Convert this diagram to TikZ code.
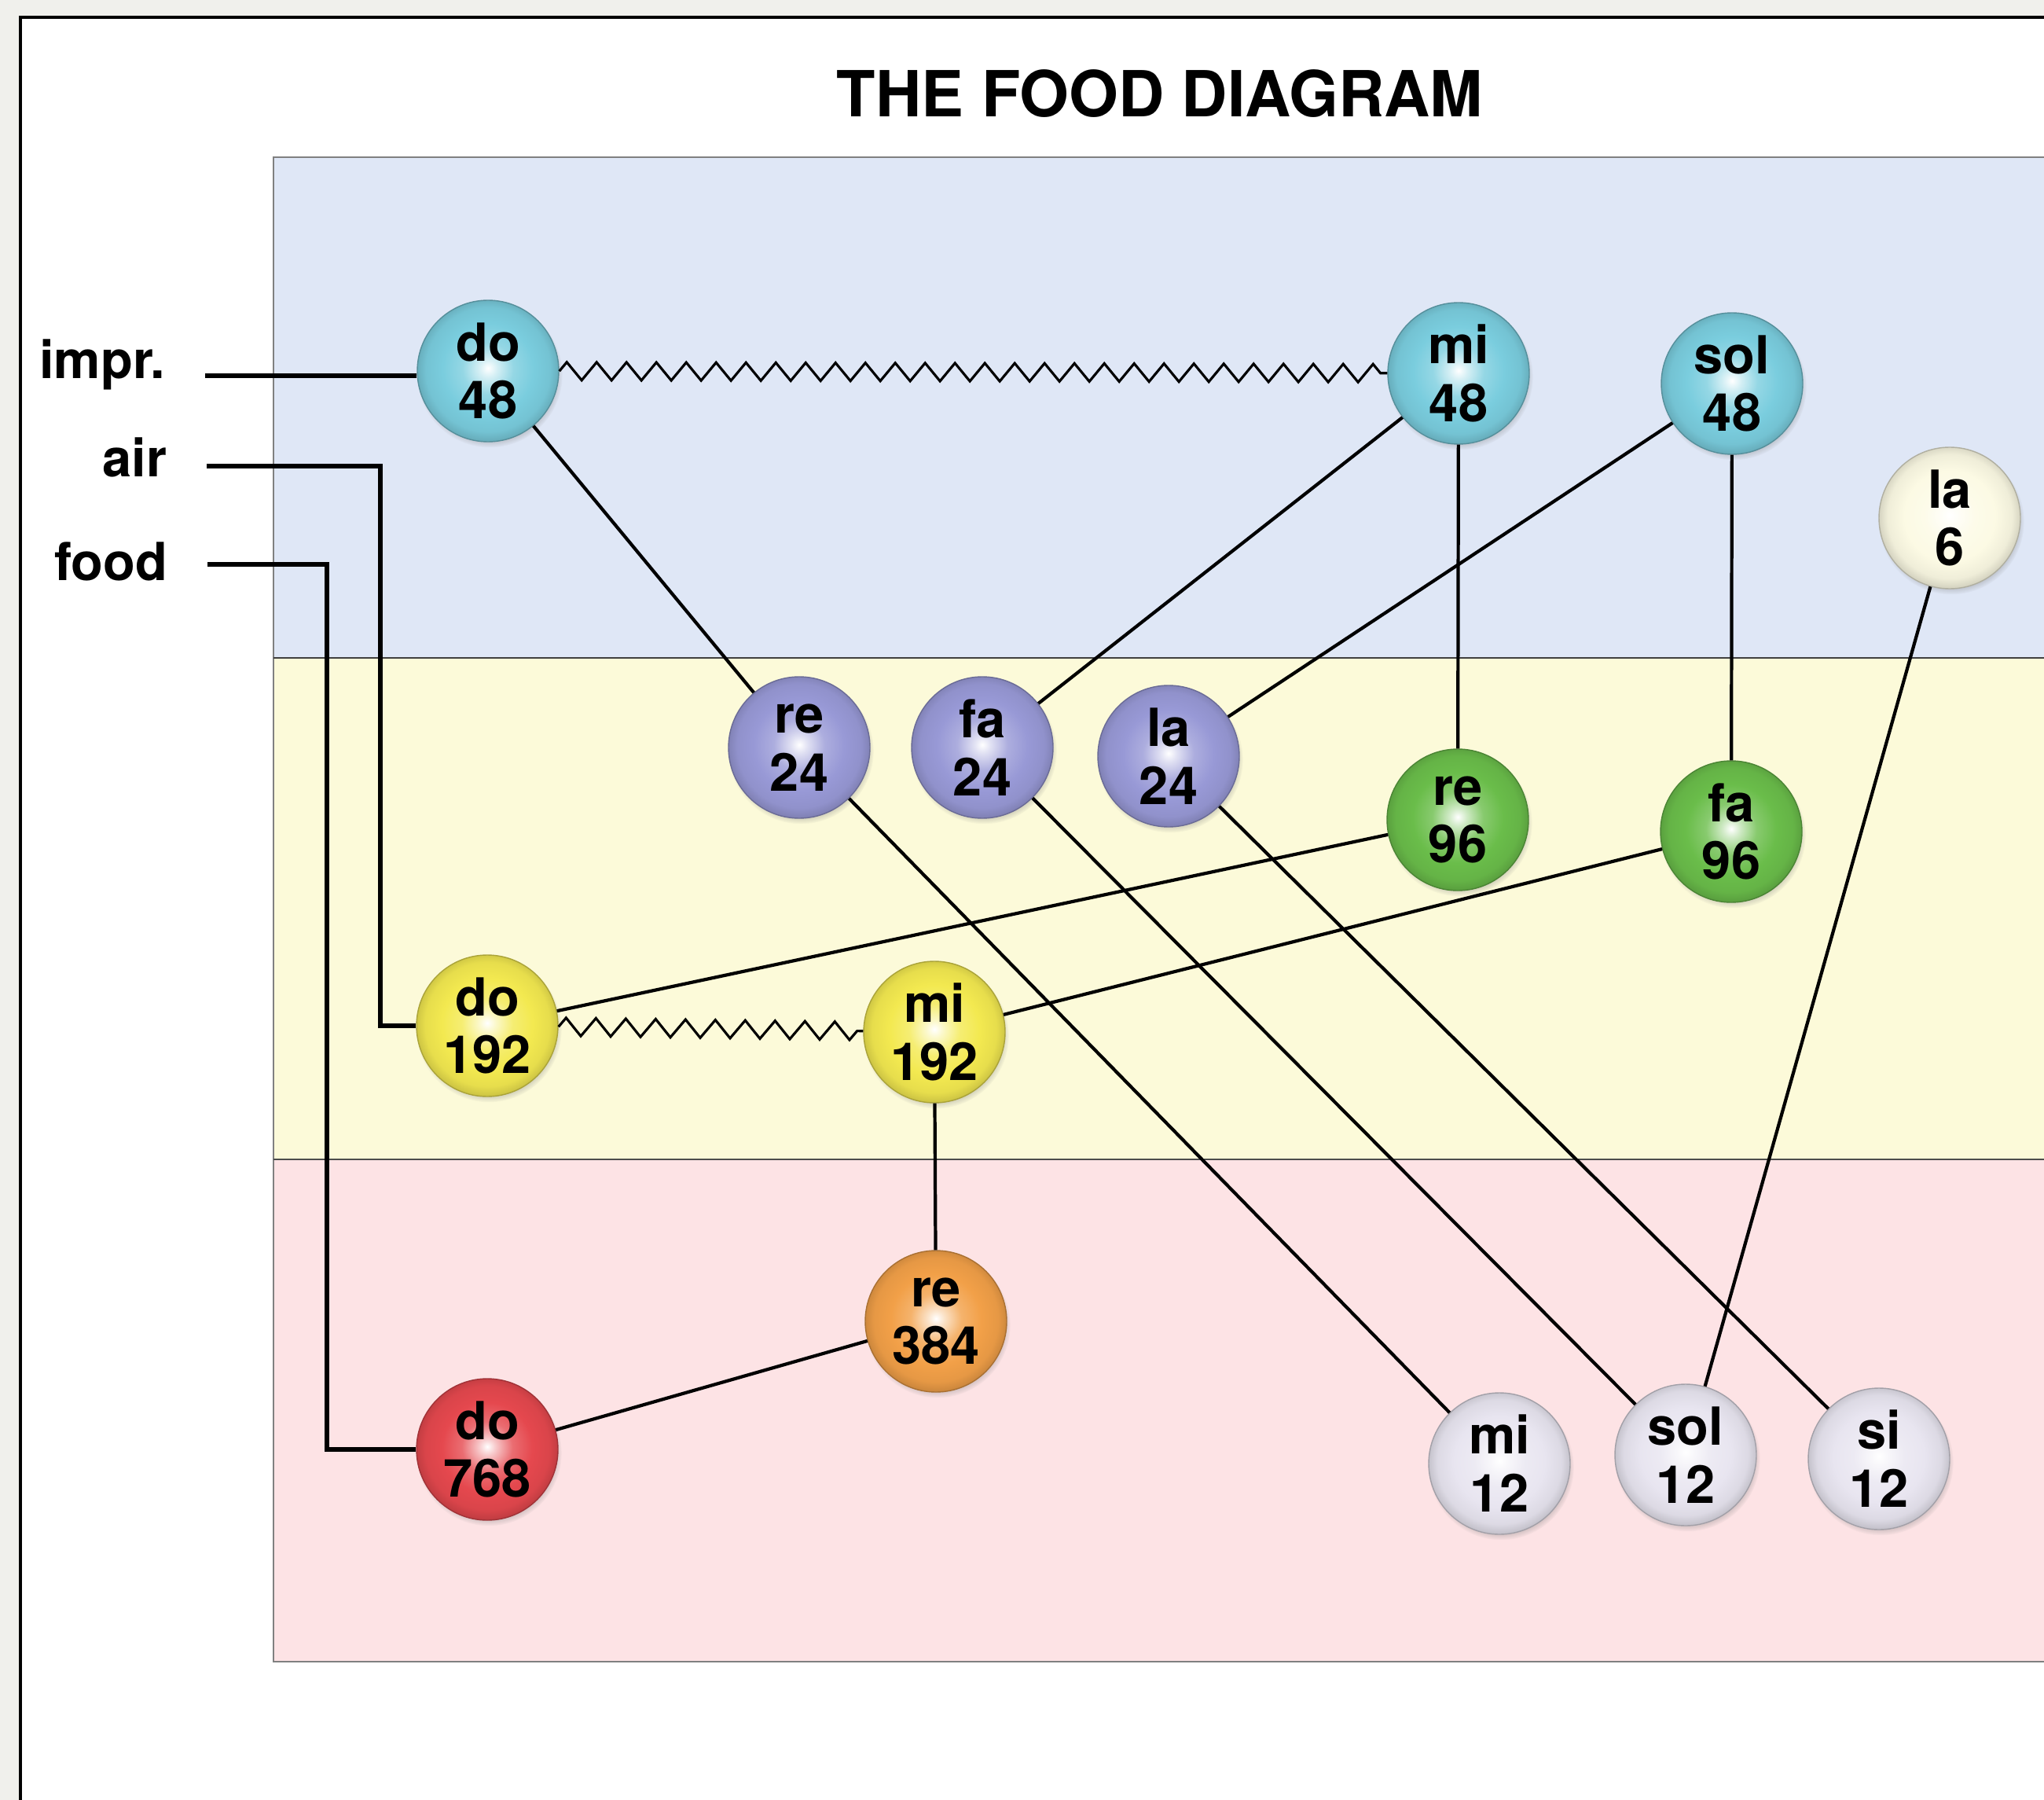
\documentclass[tikz,border=0pt]{standalone}
\usepackage{fontspec}
\setmainfont{TeX Gyre Heros}
\usetikzlibrary{decorations.pathmorphing,shadows}

\definecolor{bgGrey}{RGB}{240,240,236}
\definecolor{bandBlue}{RGB}{223,231,246}
\definecolor{bandYellow}{RGB}{252,250,217}
\definecolor{bandPink}{RGB}{253,227,229}
\definecolor{cyanB}{RGB}{122,205,222}
\definecolor{creamB}{RGB}{252,250,228}
\definecolor{lavB}{RGB}{152,153,214}
\definecolor{greenB}{RGB}{106,189,74}
\definecolor{yellowB}{RGB}{243,233,80}
\definecolor{orangeB}{RGB}{242,160,72}
\definecolor{redB}{RGB}{229,72,78}
\definecolor{paleB}{RGB}{232,229,240}

\colorlet{ballcol}{white}
\pgfdeclareradialshading[ballcol]{glossy}{\pgfpoint{0bp}{1bp}}{%
  color(0bp)=(white);
  color(3bp)=(ballcol!30!white);
  color(9bp)=(ballcol!80!white);
  color(16bp)=(ballcol);
  color(22bp)=(ballcol!95!black);
  color(25bp)=(ballcol!85!black);
  color(50bp)=(ballcol!85!black)}

\newcommand{\nodefnt}{\fontsize{19}{21}\selectfont\bfseries}

\tikzset{
  ball/.style={/utils/exec={\colorlet{ballcol}{#1}}, circle, minimum size=1.8cm,
    inner sep=0pt, align=center, font=\nodefnt, shading=glossy,
    draw=ballcol!70!black, line width=0.4pt,
    circular drop shadow={shadow xshift=0.02cm, shadow yshift=-0.045cm, shadow scale=1.03, opacity=0.55}},
  conn/.style={line width=1.2pt, black},
  legline/.style={line width=1.5pt, black},
  zz/.style={line width=0.9pt, decorate, decoration={zigzag, amplitude=0.115cm, segment length=0.38cm}},
  lbl/.style={anchor=base east, font=\nodefnt, inner sep=0pt},
}

\begin{document}
\begin{tikzpicture}
\useasboundingbox (0,0) rectangle (26.01,-22.90);
% outer background and frame
\fill[bgGrey] (0,0) rectangle (26.01,-22.90);
\fill[white] (0.26,-0.22) rectangle (26.01,-22.90);
\draw[line width=1.4pt, black] (0.26,-22.90) -- (0.26,-0.22) -- (26.01,-0.22);

% title
\node[font=\fontsize{23}{26}\selectfont\bfseries, inner sep=0pt] (title) at (14.76,-1.19) {THE FOOD DIAGRAM};

% bands
\fill[bandBlue] (3.48,-2.00) rectangle (26.01,-8.37);
\fill[bandYellow] (3.48,-8.37) rectangle (26.01,-14.75);
\fill[bandPink] (3.48,-14.75) rectangle (26.01,-21.14);
\draw[black!50, line width=0.5pt] (26.01,-2.00) -- (3.48,-2.00) -- (3.48,-21.14) -- (26.01,-21.14);
\draw[black!75, line width=0.8pt] (3.48,-8.37) -- (26.01,-8.37);
\draw[black!70, line width=0.8pt] (3.48,-14.75) -- (26.01,-14.75);

% nodes
\node[ball=cyanB] (d48) at (6.21,-4.72) {do\\48};
\node[ball=cyanB] (m48) at (18.56,-4.75) {mi\\48};
\node[ball=cyanB] (s48) at (22.04,-4.88) {sol\\48};
\node[ball=creamB] (l6) at (24.81,-6.59) {la\\6};
\node[ball=lavB] (r24) at (10.17,-9.51) {re\\24};
\node[ball=lavB] (f24) at (12.50,-9.51) {fa\\24};
\node[ball=lavB] (l24) at (14.87,-9.62) {la\\24};
\node[ball=greenB] (r96) at (18.55,-10.43) {re\\96};
\node[ball=greenB] (f96) at (22.03,-10.58) {fa\\96};
\node[ball=yellowB] (d192) at (6.20,-13.05) {do\\192};
\node[ball=yellowB] (m192) at (11.89,-13.13) {mi\\192};
\node[ball=orangeB] (r384) at (11.91,-16.81) {re\\384};
\node[ball=redB] (d768) at (6.20,-18.44) {do\\768};
\node[ball=paleB] (m12) at (19.08,-18.62) {mi\\12};
\node[ball=paleB] (s12) at (21.45,-18.51) {sol\\12};
\node[ball=paleB] (si12) at (23.91,-18.56) {si\\12};

% labels
\node[lbl] (impr) at (2.11,-4.82) {impr.};
\node[lbl] (air) at (2.13,-6.07) {air};
\node[lbl] (food) at (2.14,-7.38) {food};

\coordinate (imprS) at (2.61,-4.78);
\coordinate (airS) at (2.63,-5.93);
\coordinate (foodS) at (2.64,-7.18);

% legend lines
\draw[legline] (imprS) -- (imprS -| d48.west);
\draw[legline] (airS) -- ++(2.21,0) |- (d192.west);
\draw[legline] (foodS) -- ++(1.52,0) |- (d768.west);

% zigzags
\draw[zz] (d48) -- (m48);
\draw[zz] (d192) -- (m192);

% connectors
\draw[conn] (d48) -- (r24);
\draw[conn] (m48) -- (f24);
\draw[conn] (m48) -- (r96);
\draw[conn] (s48) -- (l24);
\draw[conn] (s48) -- (f96);
\draw[conn] (l6) -- (s12);
\draw[conn] (r24) -- (m12);
\draw[conn] (f24) -- (s12);
\draw[conn] (l24) -- (si12);
\draw[conn] (r96) -- (d192);
\draw[conn] (f96) -- (m192);
\draw[conn] (m192) -- (r384);
\draw[conn] (r384) -- (d768);
\end{tikzpicture}
\end{document}
